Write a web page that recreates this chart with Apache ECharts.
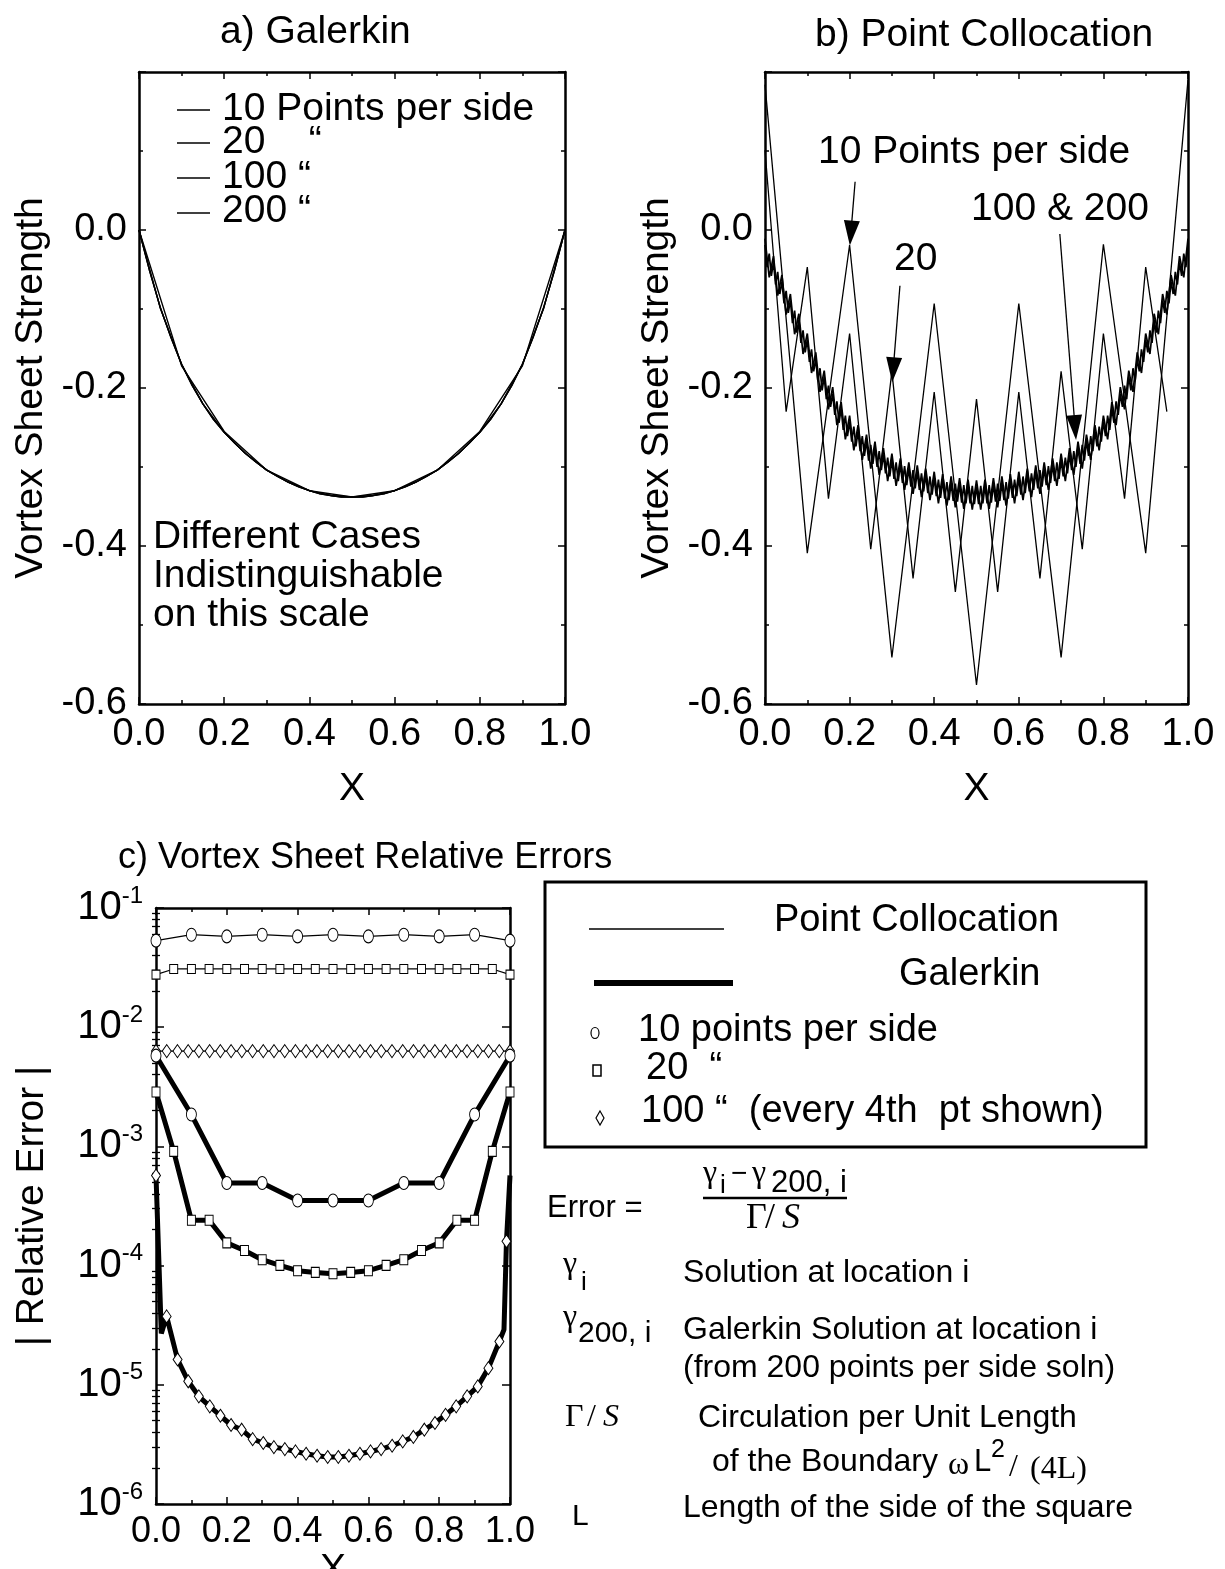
<!DOCTYPE html>
<html><head><meta charset="utf-8">
<script src="https://cdn.jsdelivr.net/npm/echarts@6/dist/echarts.min.js"></script>
<style>html,body{margin:0;padding:0;background:#fff;}#c{width:1225px;height:1569px;}</style>
</head><body><div id="c"></div>
<script>
// ---------------- DATA ----------------
// a) Galerkin (x from 0 to 1, evenly spaced)
const galA10 = [0,-0.172,-0.255,-0.304,-0.330,-0.338,-0.330,-0.304,-0.255,-0.172,0];
const galA20 = [0,-0.099,-0.170,-0.220,-0.256,-0.283,-0.304,-0.319,-0.330,-0.336,-0.338,-0.336,-0.330,-0.319,-0.304,-0.283,-0.256,-0.220,-0.170,-0.099,0];
const galA100 = [0,-0.052,-0.098,-0.136,-0.170,-0.197,-0.220,-0.240,-0.256,-0.270,-0.283,-0.294,-0.304,-0.312,-0.319,-0.325,-0.330,-0.334,-0.336,-0.338,-0.338,-0.338,-0.336,-0.334,-0.330,-0.325,-0.319,-0.312,-0.304,-0.294,-0.283,-0.270,-0.256,-0.240,-0.220,-0.197,-0.170,-0.136,-0.098,-0.052,0];
const galA200 = [0,-0.052,-0.098,-0.136,-0.170,-0.197,-0.220,-0.240,-0.256,-0.270,-0.283,-0.294,-0.304,-0.312,-0.319,-0.325,-0.330,-0.334,-0.336,-0.338,-0.338,-0.338,-0.336,-0.334,-0.330,-0.325,-0.319,-0.312,-0.304,-0.294,-0.283,-0.270,-0.256,-0.240,-0.220,-0.197,-0.170,-0.136,-0.098,-0.052,0];

// b) Point Collocation
const colB10 = [0.184,-0.409,-0.019,-0.541,-0.093,-0.576,-0.093,-0.541,-0.018,-0.409,0.190];          // step 0.1
const colB20 = [0.101,-0.230,-0.047,-0.340,-0.131,-0.404,-0.179,-0.441,-0.205,-0.458,-0.214,-0.458,-0.205,-0.441,-0.179,-0.404,-0.131,-0.340,-0.047,-0.230]; // step 0.05, 0..0.95
const colB100 = [-0.011,-0.060,-0.033,-0.083,-0.057,-0.107,-0.081,-0.132,-0.106,-0.157,
-0.131,-0.181,-0.155,-0.205,-0.178,-0.227,-0.199,-0.247,-0.218,-0.265,
-0.235,-0.279,-0.247,-0.291,-0.259,-0.302,-0.268,-0.310,-0.276,-0.318,
-0.283,-0.324,-0.289,-0.329,-0.294,-0.334,-0.298,-0.338,-0.302,-0.342,
-0.306,-0.346,-0.309,-0.349,-0.312,-0.351,-0.314,-0.353,-0.316,-0.354,
-0.317,
-0.354,-0.316,-0.353,-0.314,-0.351,-0.312,-0.349,-0.309,-0.346,-0.306,
-0.342,-0.302,-0.338,-0.298,-0.334,-0.294,-0.329,-0.289,-0.324,-0.283,
-0.318,-0.276,-0.310,-0.268,-0.302,-0.259,-0.291,-0.247,-0.279,-0.235,
-0.265,-0.218,-0.247,-0.199,-0.227,-0.178,-0.205,-0.155,-0.181,-0.131,
-0.157,-0.106,-0.132,-0.081,-0.107,-0.057,-0.083,-0.033,-0.060,-0.011]; // step 0.01
const colB200 = [-0.019,-0.047,-0.030,-0.058,-0.041,-0.069,-0.053,-0.081,-0.065,-0.093,
-0.077,-0.105,-0.089,-0.118,-0.102,-0.130,-0.114,-0.143,-0.127,-0.155,
-0.139,-0.167,-0.151,-0.179,-0.163,-0.191,-0.175,-0.203,-0.186,-0.214,
-0.197,-0.224,-0.207,-0.234,-0.217,-0.244,-0.226,-0.253,-0.235,-0.261,
-0.243,-0.268,-0.249,-0.274,-0.255,-0.280,-0.261,-0.286,-0.267,-0.292,
-0.272,-0.296,-0.276,-0.300,-0.280,-0.304,-0.284,-0.308,-0.288,-0.312,
-0.291,-0.315,-0.294,-0.318,-0.297,-0.320,-0.299,-0.323,-0.302,-0.325,
-0.304,-0.327,-0.306,-0.329,-0.308,-0.331,-0.310,-0.333,-0.312,-0.335,
-0.314,-0.337,-0.316,-0.339,-0.317,-0.340,-0.319,-0.342,-0.320,-0.343,
-0.321,-0.344,-0.322,-0.345,-0.323,-0.346,-0.324,-0.346,-0.324,-0.347,
-0.325,
-0.347,-0.324,-0.346,-0.324,-0.346,-0.323,-0.345,-0.322,-0.344,-0.321,
-0.343,-0.320,-0.342,-0.319,-0.340,-0.317,-0.339,-0.316,-0.337,-0.314,
-0.335,-0.312,-0.333,-0.310,-0.331,-0.308,-0.329,-0.306,-0.327,-0.304,
-0.325,-0.302,-0.323,-0.299,-0.320,-0.297,-0.318,-0.294,-0.315,-0.291,
-0.312,-0.288,-0.308,-0.284,-0.304,-0.280,-0.300,-0.276,-0.296,-0.272,
-0.292,-0.267,-0.286,-0.261,-0.280,-0.255,-0.274,-0.249,-0.268,-0.243,
-0.261,-0.235,-0.253,-0.226,-0.244,-0.217,-0.234,-0.207,-0.224,-0.197,
-0.214,-0.186,-0.203,-0.175,-0.191,-0.163,-0.179,-0.151,-0.167,-0.139,
-0.155,-0.127,-0.143,-0.114,-0.130,-0.102,-0.118,-0.089,-0.105,-0.077,
-0.093,-0.065,-0.081,-0.053,-0.069,-0.041,-0.058,-0.030,-0.047,-0.019]; // step 0.005
// arrow annotations (data coords: from -> to)
const arrowCoords = [[[0.213,0.061],[0.203,-0.004]],[[0.319,-0.0705],[0.303,-0.177]],[[0.697,-0.005],[0.733,-0.250]]];

// c) Relative errors
const errPC10 = [0.0532,0.0597,0.0578,0.0597,0.0578,0.0597,0.0578,0.0597,0.0578,0.0597,0.0532];
const errPC20 = [0.0276,0.0308,0.0308,0.0308,0.0308,0.0308,0.0308,0.0308,0.0308,0.0308,0.0308,0.0308,0.0308,0.0308,0.0308,0.0308,0.0308,0.0308,0.0308,0.0308,0.0276];
const errPC100 = [0.0063,0.0063,0.0063,0.0063,0.0063,0.0063,0.0063,0.0063,0.0063,0.0063,0.0063,0.0063,0.0063,0.0063,0.0063,0.0063,0.0063,0.0063,0.0063,0.0063,0.0063,0.0063,0.0063,0.0063,0.0063,0.0063,0.0063,0.0063,0.0063,0.0063,0.0063,0.0063,0.0063,0.0063];
const errG10 = [0.00577,0.00185,0.000493,0.000493,0.000352,0.000352,0.000352,0.000493,0.000493,0.00185,0.00577];
const errG20 = [0.00286,0.000908,0.00024,0.00024,0.000155,0.000134,0.000112,0.0001005,0.0000906,0.0000877,0.0000855,0.0000877,0.0000906,0.0001005,0.000112,0.000134,0.000155,0.00024,0.00024,0.000908,0.00286];
const errG100 = [[0,5.7e-4],[0.015,2.7e-5],[0.030,3.75e-5],[0.061,1.63e-5],[0.091,1.07e-5],[0.121,8.0e-6],[0.152,6.6e-6],[0.182,5.5e-6],[0.212,4.6e-6],[0.242,4.2e-6],[0.273,3.5e-6],[0.303,3.25e-6],[0.333,3.0e-6],[0.364,2.89e-6],[0.394,2.76e-6],[0.424,2.64e-6],[0.455,2.54e-6],[0.485,2.48e-6],[0.515,2.48e-6],[0.545,2.54e-6],[0.576,2.64e-6],[0.606,2.76e-6],[0.636,2.89e-6],[0.667,3.08e-6],[0.697,3.35e-6],[0.727,3.65e-6],[0.758,4.2e-6],[0.788,4.78e-6],[0.818,5.6e-6],[0.848,6.6e-6],[0.879,8.0e-6],[0.909,9.7e-6],[0.939,1.38e-5],[0.970,2.31e-5],[0.983,2.9e-5],[0.990,1.6e-4],[1.0,5.7e-4]];
const errG100NoMarker = [1, 34, 36];

// tick labels
const linTickFmt = v => (v > 0.1 ? '' : v.toFixed(1));
const xTickFmt = v => v.toFixed(1);
const minorLog = [];
for (let d = -6; d < -1; d++) for (let m = 2; m <= 9; m++) minorLog.push(d + Math.log10(m));

// ---------------- HELPERS ----------------
const FF = "'Liberation Sans', Arial, Helvetica, sans-serif";
const SERIF = "'Liberation Serif', 'Times New Roman', serif";
const pairs = (ys, n) => ys.map((y, i) => [i / n, y]);
const BLK = '#000';
const axLine = {show: true, onZero: false, lineStyle: {color: BLK, width: 2.5}};
const tick = {show: true, inside: true, length: 7, lineStyle: {color: BLK, width: 1.5}};
const mtick = {show: true, splitNumber: 2, length: 4, lineStyle: {color: BLK, width: 1.5}};

function xAx(g, pos, labels, extra) {
  return Object.assign({
    gridIndex: g, type: 'value', min: 0, max: 1, interval: 0.2, position: pos,
    axisLine: axLine, axisTick: tick, minorTick: mtick,
    splitLine: {show: false}, minorSplitLine: {show: false},
    axisLabel: labels ? {show: true, color: BLK, fontSize: 38, fontFamily: FF, margin: 12, formatter: xTickFmt} : {show: false}
  }, extra || {});
}
function yLin(g, pos, labels, extra) {
  return Object.assign({
    gridIndex: g, type: 'value', min: -0.6, max: 0.2, interval: 0.2, position: pos,
    axisLine: axLine, axisTick: tick, minorTick: mtick,
    splitLine: {show: false}, minorSplitLine: {show: false},
    axisLabel: labels ? {show: true, color: BLK, fontSize: 38, fontFamily: FF, margin: 12, formatter: linTickFmt} : {show: false}
  }, extra || {});
}
function yLog(g, pos, labels, extra) {
  return Object.assign({
    gridIndex: g, type: 'log', logBase: 10, min: 1e-6, max: 1e-1, position: pos,
    axisLine: axLine, axisTick: Object.assign({}, tick, {length: 8}),
    splitLine: {show: false}, minorSplitLine: {show: false},
    axisLabel: labels ? {show: true, margin: 13,
      formatter: v => '{b|10}{s|' + Math.round(Math.log10(v)) + '}',
      rich: {b: {fontSize: 40, lineHeight: 48, color: BLK, fontFamily: FF}, s: {fontSize: 24, lineHeight: 24, verticalAlign: 'top', color: BLK, fontFamily: FF}}} : {show: false}
  }, extra || {});
}
function yMinor(g, pos) {
  return {gridIndex: g, type: 'value', min: -6, max: -1, position: pos,
    axisLine: {show: false}, axisLabel: {show: false}, splitLine: {show: false},
    axisTick: {show: true, inside: true, length: 4, customValues: minorLog, lineStyle: {color: BLK, width: 1.3}}};
}
const nameStyle = {fontSize: 39, color: BLK, fontFamily: FF};

function thin(xi, yi, data, w) {
  return {type: 'line', xAxisIndex: xi, yAxisIndex: yi, data: data, showSymbol: false, symbol: 'none',
    lineStyle: {color: BLK, width: w || 1.2}, silent: true, z: 3};
}
function marked(xi, yi, data, sym, size, w) {
  return {type: 'line', xAxisIndex: xi, yAxisIndex: yi, data: data, symbol: sym, symbolSize: size, showSymbol: true,
    lineStyle: {color: BLK, width: w}, itemStyle: {color: '#fff', borderColor: BLK, borderWidth: 1}, silent: true, z: w > 2 ? 4 : 3};
}

// ---------------- GRAPHIC (titles, annotations, legend, formula) ----------------
function T(x, y, text, size, fam, extra) {
  return {type: 'text', x: x, y: y, silent: true, z: 10,
    style: Object.assign({text: text, fontSize: size, fontFamily: fam || FF, fill: BLK,
      align: 'left', verticalAlign: 'middle', textAlign: 'left', textVerticalAlign: 'middle'}, extra || {})};
}
function L(x1, y1, x2, y2, w) {
  return {type: 'line', silent: true, z: 10, shape: {x1: x1, y1: y1, x2: x2, y2: y2}, style: {stroke: BLK, lineWidth: w}};
}
const graphics = [
  T(220, 32, 'a) Galerkin', 39),
  T(815, 35, 'b) Point Collocation', 39),
  T(118, 858, 'c) Vortex Sheet Relative Errors', 36),
  // panel a legend
  L(177, 110, 210, 110, 1.5), T(222, 109, '10 Points per side', 39),
  L(177, 143, 210, 143, 1.5), T(222, 142, '20    \u201C', 39),
  L(177, 178, 210, 178, 1.5), T(222, 177, '100 \u201C', 39),
  L(177, 213, 210, 213, 1.5), T(222, 211, '200 \u201C', 39),
  T(153, 537, 'Different Cases', 39),
  T(153, 576, 'Indistinguishable', 39),
  T(153, 615, 'on this scale', 39),
  // panel b labels
  T(818, 152, '10 Points per side', 39),
  T(894, 259, '20', 39),
  T(971, 209, '100 & 200', 39),
  // panel c legend
  {type: 'rect', silent: true, z: 10, shape: {x: 545, y: 882, width: 601, height: 265}, style: {fill: 'none', stroke: BLK, lineWidth: 3}},
  L(589, 929, 724, 929, 1.5), T(774, 921, 'Point Collocation', 38),
  L(594, 983, 733, 983, 6), T(899, 975, 'Galerkin', 38),
  {type: 'ellipse', silent: true, z: 10, shape: {cx: 595, cy: 1033, rx: 4, ry: 5.5}, style: {fill: '#fff', stroke: BLK, lineWidth: 1.2}},
  T(638, 1031, '10 points per side', 38),
  {type: 'rect', silent: true, z: 10, shape: {x: 593, y: 1065, width: 8, height: 11}, style: {fill: '#fff', stroke: BLK, lineWidth: 1.5}},
  T(646, 1069, '20  \u201C', 38),
  {type: 'polygon', silent: true, z: 10, shape: {points: [[600, 1111], [604, 1118], [600, 1125], [596, 1118]]}, style: {fill: '#fff', stroke: BLK, lineWidth: 1.2}},
  T(641, 1112, '100 \u201C  (every 4th  pt shown)', 38),
  // formula
  T(547, 1208, 'Error =', 31),
  T(703, 1174, '\u03B3', 32, SERIF), T(720, 1186, 'i', 26), T(731, 1174, '\u2212', 28),
  T(752, 1174, '\u03B3', 32, SERIF), T(771, 1183, '200, i', 31),
  L(703, 1198, 847, 1198, 2.5),
  T(746, 1219, '\u0393', 36, SERIF), T(765, 1219, '/', 36, SERIF), T(782, 1219, 'S', 36, SERIF, {fontStyle: 'italic'}),
  T(563, 1265, '\u03B3', 32, SERIF), T(581, 1283, 'i', 26),
  T(683, 1273, 'Solution at location i', 32),
  T(563, 1318, '\u03B3', 32, SERIF), T(578, 1334, '200, i', 30),
  T(683, 1330, 'Galerkin Solution at location i', 32),
  T(683, 1368, '(from 200 points per side soln)', 32),
  T(565, 1418, '\u0393', 32, SERIF), T(587, 1418, '/', 32, SERIF), T(603, 1418, 'S', 32, SERIF, {fontStyle: 'italic'}),
  T(698, 1418, 'Circulation per Unit Length', 32),
  T(712, 1462, 'of the Boundary', 32),
  T(948, 1466, '\u03C9', 32, SERIF), T(974, 1462, 'L', 31), T(991, 1450, '2', 25),
  T(1009, 1468, '/', 32, SERIF), T(1030, 1470, '(4L)', 32, SERIF),
  T(572, 1517, 'L', 30),
  T(683, 1508, 'Length of the side of the square', 32)
];

// ---------------- OPTION ----------------
const g100Data = errG100.map((p, i) => errG100NoMarker.indexOf(i) >= 0 ? {value: p, symbol: 'none'} : {value: p});

const option = {
  animation: false,
  backgroundColor: '#fff',
  color: [BLK],
  textStyle: {fontFamily: FF, color: BLK},
  grid: [
    {left: 139, top: 72, width: 426, height: 632, containLabel: false, outerBoundsMode: 'none'},
    {left: 765, top: 72, width: 423, height: 632, containLabel: false, outerBoundsMode: 'none'},
    {left: 156, top: 908, width: 354, height: 596, containLabel: false, outerBoundsMode: 'none'}
  ],
  xAxis: [
    xAx(0, 'bottom', true, {name: 'X', nameLocation: 'middle', nameGap: 66, nameTextStyle: nameStyle}),
    xAx(0, 'top', false),
    xAx(1, 'bottom', true, {name: 'X', nameLocation: 'middle', nameGap: 66, nameTextStyle: nameStyle}),
    xAx(1, 'top', false),
    xAx(2, 'bottom', true, {name: 'X', nameLocation: 'middle', nameGap: 34, nameTextStyle: nameStyle,
      axisLabel: {show: true, color: BLK, fontSize: 36, fontFamily: FF, margin: 10, formatter: xTickFmt}}),
    xAx(2, 'top', false)
  ],
  yAxis: [
    yLin(0, 'left', true, {name: 'Vortex Sheet Strength', nameLocation: 'middle', nameGap: 88, nameTextStyle: nameStyle}),
    yLin(0, 'right', false),
    yLin(1, 'left', true, {name: 'Vortex Sheet Strength', nameLocation: 'middle', nameGap: 88, nameTextStyle: nameStyle}),
    yLin(1, 'right', false),
    yLog(2, 'left', true, {name: '| Relative Error |', nameLocation: 'middle', nameGap: 104, nameTextStyle: nameStyle}),
    yLog(2, 'right', false),
    yMinor(2, 'left'),
    yMinor(2, 'right')
  ],
  series: [
    // a
    thin(0, 0, pairs(galA10, 10), 1.4),
    thin(0, 0, pairs(galA20, 20), 1.4),
    thin(0, 0, pairs(galA100, 40), 1.4),
    thin(0, 0, pairs(galA200, 40), 1.4),
    // b
    Object.assign(thin(2, 2, pairs(colB10, 10), 1.3), {
      markLine: {silent: true, symbol: ['none', 'triangle'], symbolSize: [16, 25], label: {show: false},
        itemStyle: {color: BLK}, lineStyle: {color: BLK, width: 1.3, type: 'solid'}, emphasis: {disabled: true},
        data: arrowCoords.map(a => [{coord: a[0]}, {coord: a[1]}])}
    }),
    thin(2, 2, pairs(colB20, 20), 1.3),
    thin(2, 2, pairs(colB100, 100), 1.7),
    thin(2, 2, pairs(colB200, 200), 1.7),
    // c point collocation
    marked(4, 4, pairs(errPC10, 10), 'circle', [10, 13], 1.2),
    marked(4, 4, pairs(errPC20, 20), 'rect', [8, 9], 1.2),
    marked(4, 4, pairs(errPC100, 33), 'diamond', [9, 13], 1.2),
    // c galerkin
    marked(4, 4, pairs(errG10, 10), 'circle', [10, 13], 5),
    marked(4, 4, pairs(errG20, 20), 'rect', [8, 10], 5),
    marked(4, 4, g100Data, 'diamond', [9, 13], 5)
  ],
  graphic: {elements: graphics}
};

const chart = echarts.init(document.getElementById('c'), null, {renderer: 'canvas', width: 1225, height: 1569});
chart.setOption(option);
</script></body></html>
